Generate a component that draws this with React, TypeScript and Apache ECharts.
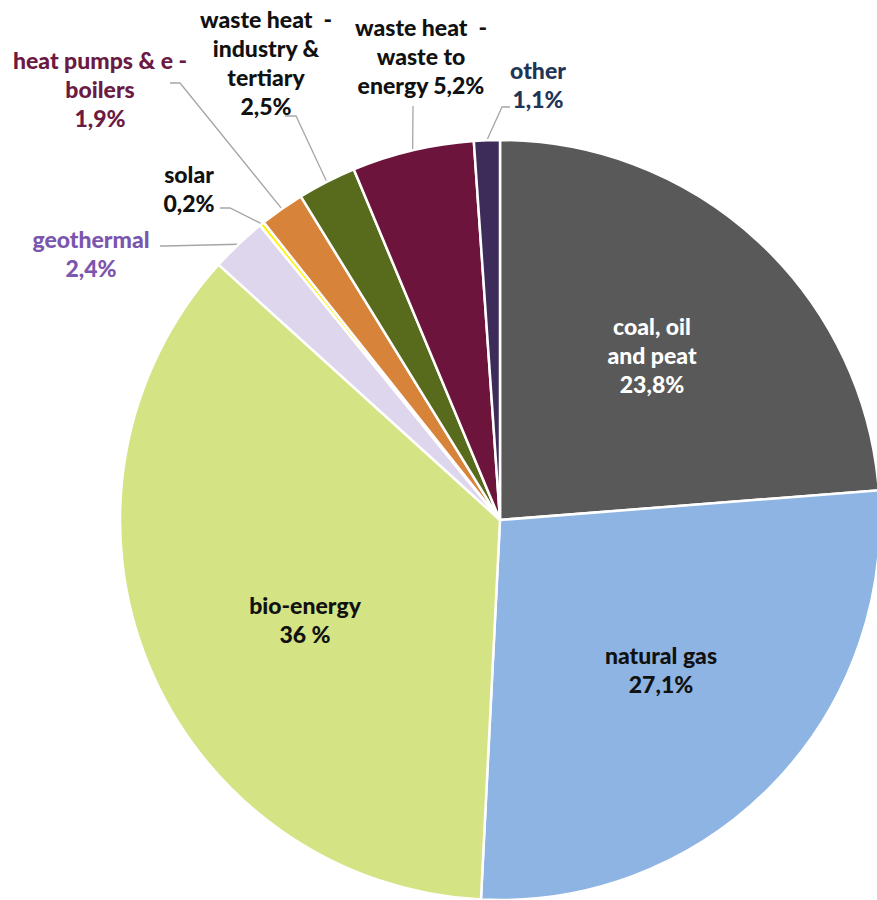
import React, { useEffect, useRef } from "react";
import * as echarts from "echarts";

const categories = [
  "coal, oil\nand peat",
  "natural gas",
  "bio-energy",
  "geothermal",
  "solar",
  "heat pumps & e -\nboilers",
  "waste heat  -\nindustry &\ntertiary",
  "waste heat  -\nwaste to\nenergy",
  "other",
];
const values = [23.8, 27.1, 36, 2.4, 0.2, 1.9, 2.5, 5.2, 1.1];
const valueLabels = ["23,8%", "27,1%", "36 %", "2,4%", "0,2%", "1,9%", "2,5%", "5,2%", "1,1%"];
const sliceColors = ["#595959", "#8DB4E2", "#D4E484", "#DED6EC", "#FFF200", "#D8833A", "#586A1C", "#6D143C", "#3D2B59"];
const labelColors = ["#FFFFFF", "#111111", "#111111", "#7B56AE", "#111111", "#6B1A43", "#111111", "#111111", "#1F3557"];
const insideFlags = [true, true, true, false, false, false, false, false, false];
const sameLineValue = [false, false, false, false, false, false, false, true, false];

// label centre positions (layout)
const labelCenters: [number, number][] = [
  [652, 355], [661, 669], [305, 619], [91, 253], [189, 188], [100, 89], [266, 62], [421, 56], [538, 84],
];
// leader line bend and end points (layout)
const leaderEnds: ([number, number][] | null)[] = [
  null, null, null,
  [[165, 246], [160, 246]],
  [[230, 208], [220, 208]],
  [[180, 83], [170, 83]],
  [[296, 116], [285, 116]],
  [[413, 107], [413, 106]],
  [[502, 107], [510, 107]],
];

export default function App() {
  const ref = useRef<HTMLDivElement>(null);
  useEffect(() => {
    const chart = echarts.init(ref.current!, null, { renderer: "svg" });
    const data = categories.map((name, i) => ({
      name,
      value: values[i],
      itemStyle: { color: sliceColors[i] },
      label: {
        position: insideFlags[i] ? "inside" : "outside",
        color: labelColors[i],
        formatter: sameLineValue[i] ? name + " " + valueLabels[i] : name + "\n" + valueLabels[i],
      },
      labelLine: { show: !insideFlags[i] },
    }));
    chart.setOption({
      animation: false,
      series: [
        {
          type: "pie",
          center: [500, 520],
          radius: 380,
          startAngle: 90,
          clockwise: true,
          avoidLabelOverlap: false,
          itemStyle: { borderColor: "#FFFFFF", borderWidth: 2.5 },
          label: {
            show: true,
            fontFamily: "Lato",
            fontWeight: 900,
            fontSize: 23,
            lineHeight: 29,
            align: "center",
          },
          labelLine: {
            show: true,
            lineStyle: { color: "#A6A6A6", width: 1.3 },
          },
          labelLayout: (params: any) => {
            const i = params.dataIndex;
            const [x, y] = labelCenters[i];
            const res: any = { x, y, align: "center", verticalAlign: "middle" };
            const ends = leaderEnds[i];
            if (ends && params.labelLinePoints) {
              const start = params.labelLinePoints[0];
              res.labelLinePoints = [start, ends[0], ends[1]];
            }
            return res;
          },
          data,
        },
      ],
    });
    return () => chart.dispose();
  }, []);
  return (
    <div
      ref={ref}
      style={{ position: "absolute", left: 0, top: 0, width: 877, height: 900 }}
    />
  );
}
